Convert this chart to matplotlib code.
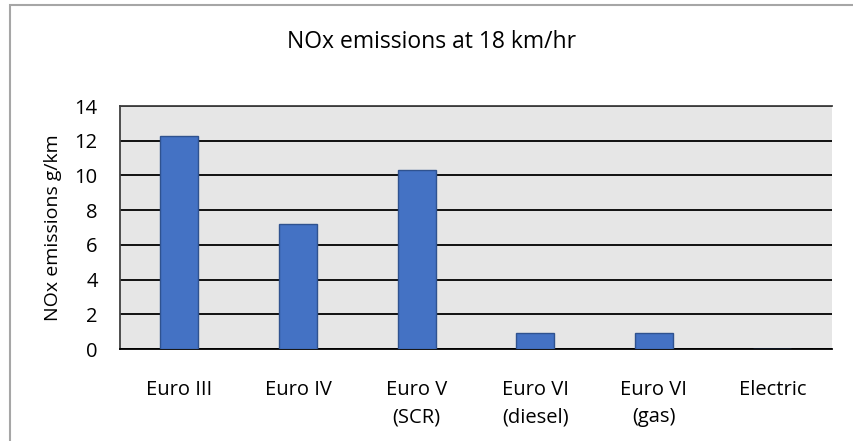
import matplotlib
matplotlib.use("Agg")
import matplotlib.pyplot as plt
from matplotlib.patches import Rectangle

# chart data
categories = ["Euro III", "Euro IV", "Euro V\n(SCR)", "Euro VI\n(diesel)", "Euro VI\n(gas)", "Electric"]
nox_values = [12.3, 7.2, 10.3, 0.95, 0.95, 0.0]
y_ticks = [0, 2, 4, 6, 8, 10, 12, 14]

plt.rcParams["font.family"] = ["Open Sans", "DejaVu Sans"]

fig = plt.figure(figsize=(8.54, 4.41), dpi=100)
ax = fig.add_axes([0.1405, 0.2086, 0.8335, 0.551])

# outer chart border
fig.patches.append(Rectangle((10 / 854, -0.1), 1.0, 1.1 - 5 / 441, transform=fig.transFigure,
                             fill=False, edgecolor="#a6a6a6", linewidth=1.5))

x = list(range(len(categories)))
ax.bar(x, nox_values, width=0.32, color="#4472C4", edgecolor="#2F528F", linewidth=1.0, zorder=3)

ax.set_facecolor("#e6e6e6")
ax.set_xlim(-0.5, len(categories) - 0.5)
ax.set_ylim(0, 14)
ax.set_yticks(y_ticks)
ax.set_xticks(x)
ax.set_xticklabels(categories, fontsize=14.5, linespacing=1.5, va="top")
ax.tick_params(axis="y", labelsize=14.5, length=0, pad=16)
ax.tick_params(axis="x", length=0, pad=22)
ax.yaxis.grid(True, color="black", linewidth=1.3, zorder=1)
ax.set_axisbelow(True)
for side in ax.spines.values():
    side.set_color("#404040")
    side.set_linewidth(1.3)
ax.spines["bottom"].set_color("black")
ax.spines["right"].set_visible(False)

ax.set_ylabel("NOx emissions g/km", fontsize=14, labelpad=9)
fig.text(0.505, 0.905, "NOx emissions at 18 km/hr", ha="center", va="center", fontsize=16.5)

fig.savefig("out.png", dpi=100)
